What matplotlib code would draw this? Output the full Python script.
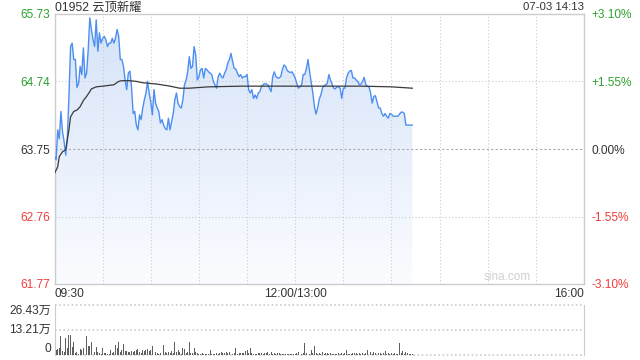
import numpy as np
import matplotlib
matplotlib.use("Agg")
import matplotlib.pyplot as plt
from matplotlib.patches import Polygon

plt.rcParams['font.family'] = ['Liberation Sans', 'Noto Sans CJK SC', 'DejaVu Sans']

# ------------------------------------------------------------
# data
# ------------------------------------------------------------
title = "01952 云顶新耀"
stamp = "07-03 14:13"
prev_close = 63.75

price_labels = ['65.73', '64.74', '63.75', '62.76', '61.77']
pct_ticks = [3.10, 1.55, 0.00, -1.55, -3.10]
pct_labels = ['+3.10%', '+1.55%', '0.00%', '-1.55%', '-3.10%']

time_labels = ['09:30', '12:00/13:00', '16:00']
time_ticks = [0, 150, 330]

vol_ticks = [0, 13.21, 26.43]
vol_labels = ['0', '13.21万', '26.43万']

# one price per minute from 09:30 to 14:13
price = [
    63.64, 63.59, 64.03, 63.90, 64.30, 64.00, 63.86, 63.66, 63.93, 64.52,
    65.25, 65.30, 65.06, 65.06, 64.65, 64.71, 64.96, 64.84, 65.23, 64.79,
    64.86, 65.20, 65.67, 65.50, 65.35, 65.25, 65.64, 65.18, 65.45, 65.30,
    65.37, 65.40, 65.35, 65.25, 65.30, 65.30, 65.37, 65.30, 65.37, 65.50,
    65.40, 65.06, 65.06, 64.96, 64.76, 64.62, 64.86, 64.89, 64.66, 64.27,
    64.30, 64.10, 64.03, 64.25, 64.18, 64.35, 64.47, 64.57, 64.74, 64.57,
    64.44, 64.25, 64.62, 64.42, 64.35, 64.30, 64.13, 64.18, 64.10, 64.05,
    64.03, 64.20, 64.03, 64.15, 64.27, 64.47, 64.57, 64.42, 64.37, 64.35,
    64.47, 64.69, 64.76, 64.88, 65.10, 64.93, 64.96, 65.25, 65.13, 64.76,
    64.81, 64.91, 64.93, 64.79, 64.93, 64.91, 64.88, 64.86, 64.84, 64.74,
    64.69, 64.64, 64.81, 64.86, 64.81, 64.79, 64.86, 64.91, 65.01, 65.06,
    65.15, 65.03, 64.93, 64.92, 64.86, 64.81, 64.84, 64.79, 64.81, 64.81,
    64.84, 64.62, 64.57, 64.62, 64.49, 64.54, 64.49, 64.57, 64.59, 64.67,
    64.69, 64.71, 64.70, 64.69, 64.64, 64.59, 64.81, 64.88, 64.81, 64.79,
    64.79, 64.81, 64.91, 64.98, 64.96, 64.90, 64.88, 64.87, 64.88, 64.84,
    64.79, 64.71, 64.64, 64.66, 64.69, 64.84, 64.84, 64.93, 65.06, 64.88,
    64.72, 64.57, 64.37, 64.26, 64.35, 64.48, 64.54, 64.64, 64.68, 64.69,
    64.71, 64.84, 64.76, 64.70, 64.64, 64.63, 64.66, 64.66, 64.64, 64.49,
    64.64, 64.64, 64.79, 64.86, 64.89, 64.90, 64.79, 64.79, 64.76, 64.74,
    64.69, 64.70, 64.74, 64.80, 64.69, 64.67, 64.66, 64.57, 64.42, 64.52,
    64.53, 64.44, 64.35, 64.35, 64.27, 64.23, 64.27, 64.23, 64.20, 64.27,
    64.26, 64.23, 64.23, 64.23, 64.23, 64.26, 64.29, 64.29, 64.27, 64.10,
    64.10, 64.10, 64.10, 64.10,
]

# average price line, read at a few minutes
avg_minute = [0, 2, 3, 5, 7, 9, 10, 12, 14, 16, 18, 20, 22, 23, 26, 30,
              37, 40, 42, 47, 51, 55, 64, 72, 78, 84, 96, 117, 137, 156,
              171, 191, 210, 223]
avg_price = [63.39, 63.49, 63.64, 63.71, 63.74, 64.03, 64.22, 64.30, 64.32,
             64.37, 64.46, 64.52, 64.59, 64.63, 64.66, 64.67, 64.69, 64.74,
             64.75, 64.75, 64.74, 64.72, 64.70, 64.67, 64.64, 64.64, 64.66,
             64.67, 64.67, 64.67, 64.67, 64.67, 64.66, 64.64]

# volume per minute, in 万 shares
volume = [
    26.43, 2.6, 3.2, 3.5, 10.0, 2.3, 1.8, 9.2, 3.5, 10.6,
    10.6, 4.4, 6.9, 0.9, 1.8, 0.5, 3.0, 2.6, 3.9, 4.4,
    10.0, 4.8, 4.8, 6.7, 2.6, 1.8, 4.4, 1.8, 0.9, 0.5,
    3.5, 1.2, 1.2, 0.5, 0.5, 2.6, 0.9, 1.8, 5.3, 3.5,
    6.9, 1.8, 2.6, 5.8, 2.3, 2.3, 1.4, 1.8, 2.3, 1.8,
    1.9, 2.6, 3.2, 1.8, 1.2, 2.6, 2.3, 2.6, 3.0, 2.3,
    2.6, 4.8, 1.8, 1.8, 1.2, 0.5, 0.9, 1.8, 5.3, 1.8,
    0.9, 1.8, 0.9, 2.1, 0.9, 7.0, 1.8, 2.6, 1.8, 0.5,
    3.5, 3.0, 0.9, 1.8, 7.0, 1.2, 0.9, 3.9, 1.8, 0.9,
    0.5, 0.5, 0.9, 0.5, 0.5, 0.5, 0.5, 2.6, 0.5, 0.5,
    0.35, 0.9, 0.5, 0.9, 1.8, 0.9, 1.2, 1.8, 0.9, 1.8,
    0.5, 0.5, 0.9, 3.9, 0.5, 1.2, 0.9, 0.9, 1.2, 2.3,
    2.6, 0.9, 3.5, 1.2, 0.5, 0.5, 0.5, 0.9, 0.9, 1.2,
    0.5, 1.2, 0.9, 1.8, 0.5, 1.4, 0.5, 0.9, 0.5, 0.9,
    1.2, 0.5, 0.35, 0.5, 0.35, 0.5, 0.5, 0.5, 0.5, 0.5,
    0.5, 0.9, 1.4, 0.9, 0.35, 0.9, 6.5, 0.9, 0.9, 0.5,
    2.6, 0.9, 4.8, 1.2, 0.5, 0.9, 0.35, 1.4, 0.5, 1.2,
    0.9, 0.5, 1.2, 0.5, 0.35, 0.5, 0.35, 0.9, 0.5, 0.9,
    0.5, 1.2, 2.6, 0.5, 0.5, 0.5, 0.9, 1.2, 0.9, 0.5,
    1.2, 0.5, 0.9, 0.35, 1.2, 2.6, 0.9, 1.8, 0.5, 1.4,
    0.9, 1.2, 0.9, 1.2, 0.5, 0.9, 2.1, 0.5, 0.9, 0.5,
    0.9, 0.5, 0.9, 0.5, 0.5, 6.2, 0.9, 2.1, 0.5, 1.4,
    0.9, 0.5, 0.5, 0.5,
]

GREEN = '#2ea12e'
RED = '#f03c3c'
DARK = '#333333'
GRID = '#cccccc'
LINE = '#4d8ff0'

minutes = np.arange(len(price))
ymin = prev_close * (1 + pct_ticks[-1] / 100)
ymax = prev_close * (1 + pct_ticks[0] / 100)
tick_y = [prev_close * (1 + p / 100) for p in pct_ticks]
tick_colors = [GREEN, GREEN, DARK, RED, RED]

fig = plt.figure(figsize=(6.4, 3.6), dpi=100)

# ------------------------------------------------------------
# price panel
# ------------------------------------------------------------
ax = fig.add_axes([54.5 / 640, 1 - 284 / 360, 529.5 / 640, 270 / 360])
ax.set_xlim(0, 330)
ax.set_ylim(ymin, ymax)

# gradient fill under the price line, clipped to the area below it
grad = np.linspace(0, 1, 256).reshape(-1, 1)
cmap = matplotlib.colors.LinearSegmentedColormap.from_list(
    'fill', ['#fbfcff', '#d5e3f8'])
img = ax.imshow(grad, cmap=cmap, aspect='auto', origin='lower',
                extent=[0, len(price) - 1, ymin, ymax], zorder=1)
poly = Polygon(np.column_stack([
    np.r_[minutes, minutes[-1], 0],
    np.r_[price, ymin, ymin]]), closed=True, facecolor='none',
    edgecolor='none')
ax.add_patch(poly)
img.set_clip_path(poly)

ax.plot(minutes, price, color=LINE, lw=1.0, zorder=3)
ax.plot(avg_minute, avg_price, color='#3a3a3a', lw=0.9, zorder=4)

for m in range(30, 330, 30):
    ax.axvline(m, color=GRID, lw=0.8, ls=(0, (1, 2)), zorder=2)
for i, y in enumerate(tick_y[1:-1]):
    if pct_ticks[i + 1] == 0:
        ax.axhline(y, color='#aaaaaa', lw=0.8, ls=(0, (2, 2)), zorder=2)
    else:
        ax.axhline(y, color=GRID, lw=0.8, ls=(0, (1, 2)), zorder=2)

for s in ax.spines.values():
    s.set_color(GRID)
    s.set_linewidth(1)

ax.set_yticks(tick_y)
ax.set_yticklabels(price_labels, fontsize=8.6)
for lab, c in zip(ax.get_yticklabels(), tick_colors):
    lab.set_color(c)
ax.tick_params(axis='y', length=0, pad=3.5)

ax.set_xticks(time_ticks)
ax.set_xticklabels(time_labels, fontsize=8.6, color=DARK)
for lab, ha in zip(ax.get_xticklabels(), ['left', 'center', 'right']):
    lab.set_ha(ha)
ax.tick_params(axis='x', length=0, pad=3)

ax2 = ax.twinx()
ax2.set_ylim(ymin, ymax)
ax2.set_yticks(tick_y)
ax2.set_yticklabels(pct_labels, fontsize=8.6)
for lab, c in zip(ax2.get_yticklabels(), tick_colors):
    lab.set_color(c)
ax2.tick_params(axis='y', length=0, pad=5.5)
for s in ax2.spines.values():
    s.set_visible(False)

ax.text(0.9, 0.005, 'sina.com', transform=ax.transAxes, ha='right',
        va='bottom', fontsize=8.5, color='#d0d0d0', zorder=5)

# ------------------------------------------------------------
# volume panel
# ------------------------------------------------------------
vx = fig.add_axes([54.5 / 640, 1 - 355 / 360, 529.5 / 640, 50 / 360])
vx.set_xlim(0, 330)
vx.set_ylim(0, vol_ticks[-1])
vx.bar(minutes, volume, width=0.6, color='#5f5f5f', zorder=3)
for y in vol_ticks:
    vx.axhline(y, color=GRID, lw=1.2, ls=(0, (1, 1.5)), zorder=0,
               clip_on=False)
for side in ['top', 'bottom']:
    vx.spines[side].set_visible(False)
for side in ['left', 'right']:
    vx.spines[side].set_color(GRID)
vx.set_xticks([])
vx.set_yticks([])
for y, lab, va in zip(vol_ticks, vol_labels, ['bottom', 'center', 'top']):
    vx.text(-3.6 * 330 / 529.5, y, lab, ha='right', va=va, fontsize=8.6,
            color=DARK)

# ------------------------------------------------------------
# header texts
# ------------------------------------------------------------
fig.text(55 / 640, 1 - 7.5 / 360, title, ha='left', va='center',
         fontsize=8.8, color=DARK)
fig.text(584 / 640, 1 - 7.5 / 360, stamp, ha='right', va='center',
         fontsize=8.2, color=DARK)

fig.savefig('out.png', dpi=100)
